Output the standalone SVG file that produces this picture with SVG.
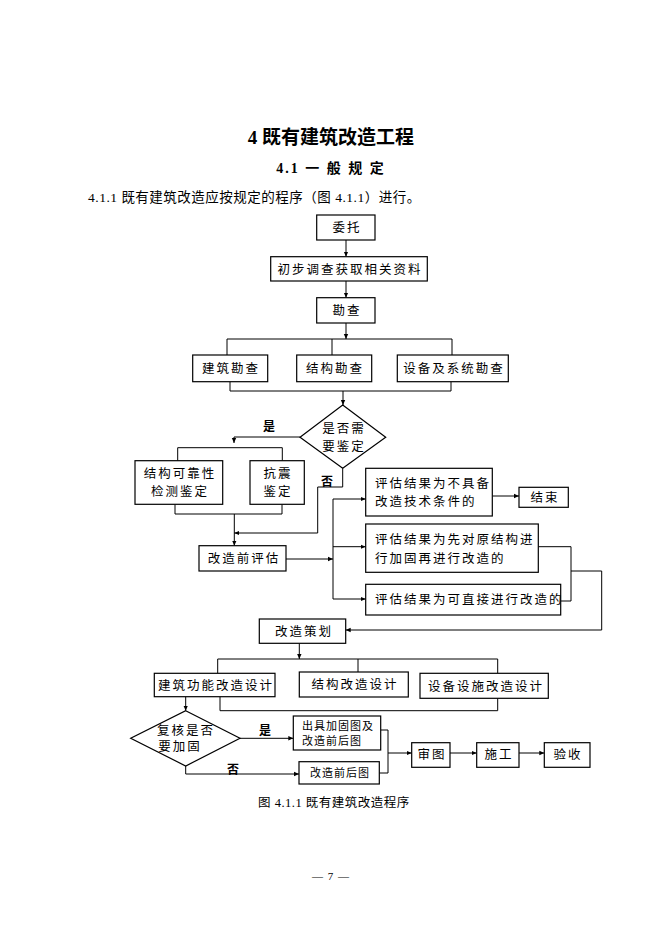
<svg xmlns="http://www.w3.org/2000/svg" width="662" height="936" viewBox="0 0 662 936">
<defs>
<marker id="a" markerWidth="6" markerHeight="6" refX="5" refY="3" orient="auto" markerUnits="userSpaceOnUse"><path d="M0,0.8 L5,3 L0,5.2 Z" fill="#000"/></marker>
<style>
.b{fill:#fff;stroke:#000;stroke-width:1.2}
.t{font-family:"Liberation Serif","Noto Sans CJK SC",serif;font-size:12.5px;fill:#000;letter-spacing:2px}
.c{text-anchor:middle}
.l{fill:none;stroke:#000;stroke-width:1}
.h{font-family:"Liberation Serif","Noto Sans CJK SC",serif;font-weight:bold;fill:#000}
</style>
</defs>
<rect width="662" height="936" fill="#fff"/>
<text class="h c" x="331" y="144" font-size="19">4 既有建筑改造工程</text>
<text class="h c" x="331" y="173" font-size="14" letter-spacing="2">4.1 一 般 规 定</text>
<text class="t" x="88" y="202" font-size="13.5" letter-spacing="0.5" style="font-size:13.5px;letter-spacing:0.5px">4.1.1 既有建筑改造应按规定的程序（图 4.1.1）进行。</text>
<g id="connectors" class="l">
<path d="M346,240 V256.7" marker-end="url(#a)"/>
<path d="M346,281 V297.7" marker-end="url(#a)"/>
<path d="M346,323 V339" marker-end="url(#a)"/>
<path d="M227,355 V339 H452 V355 M332,339 V355"/>
<path d="M230,381.7 V391 H451 V381.7"/>
<path d="M343,391 V405" marker-end="url(#a)"/>
<path d="M300,437 H234 V443" marker-end="url(#a)"/>
<path d="M177.7,460.7 V447.7 H282.3 V460.7"/>
<path d="M175,504.3 V514 H282 V504.3"/>
<path d="M234.3,514 V545.7" marker-end="url(#a)"/>
<path d="M342.7,468.3 V487 H317.7 V533 H234.3" marker-end="url(#a)"/>
<path d="M286,559 H333" marker-end="url(#a)"/>
<path d="M333,499 V599"/>
<path d="M333,499 H365.7" marker-end="url(#a)"/>
<path d="M333,546.7 H365.7" marker-end="url(#a)"/>
<path d="M333,599 H365.7" marker-end="url(#a)"/>
<path d="M492.3,496 H519" marker-end="url(#a)"/>
<path d="M538.3,546.7 H571 V601 H560.7 M571,571 H601.7 V630 H345.7" marker-end="url(#a)"/>
<path d="M299.3,643.3 V659" marker-end="url(#a)"/>
<path d="M217.7,673.3 V659 H497.7 V673.3 M358,659 V672"/>
<path d="M220,696.7 V710.7 H497.7 V698.3"/>
<path d="M185.7,696.7 V710.7" marker-end="url(#a)"/>
<path d="M240,738.3 H293.3" marker-end="url(#a)"/>
<path d="M185.7,766 V774 H299" marker-end="url(#a)"/>
<path d="M380.7,730 H388 V773 H379.3"/>
<path d="M388,753 H411.7" marker-end="url(#a)"/>
<path d="M450,753 H476.7" marker-end="url(#a)"/>
<path d="M519,753 H544.3" marker-end="url(#a)"/>
</g>
<g id="n1"><rect class="b" x="316.7" y="215" width="58.3" height="25"/><text class="t c" x="347" y="232">委托</text></g>
<g id="n2"><rect class="b" x="270.7" y="256.7" width="156.6" height="24.3"/><text class="t c" x="350" y="273.5">初步调查获取相关资料</text></g>
<g id="n3"><rect class="b" x="316.7" y="297.7" width="58.3" height="25.3"/><text class="t c" x="347" y="315">勘查</text></g>
<g id="n4"><rect class="b" x="192.7" y="355" width="75" height="26.7"/><text class="t c" x="231" y="373">建筑勘查</text></g>
<g id="n5"><rect class="b" x="296.7" y="355" width="75" height="26.7"/><text class="t c" x="335" y="373">结构勘查</text></g>
<g id="n6"><rect class="b" x="397.3" y="355" width="111" height="26.7"/><text class="t c" x="454" y="373">设备及系统勘查</text></g>
<g id="d1"><polygon class="b" points="342.7,405 385.7,437.3 342.7,468.3 300,437.3"/><text class="t c" x="344" y="433">是否需</text><text class="t c" x="344" y="451">要鉴定</text></g>
<text class="h" x="263" y="431" font-size="12">是</text>
<text class="h" x="321" y="486" font-size="12">否</text>
<g id="n7"><rect class="b" x="135" y="460.7" width="87.7" height="43.6"/><text class="t c" x="180" y="478">结构可靠性</text><text class="t c" x="180" y="496">检测鉴定</text></g>
<g id="n8"><rect class="b" x="250" y="460.7" width="54.3" height="43.6"/><text class="t c" x="278" y="478">抗震</text><text class="t c" x="278" y="496">鉴定</text></g>
<g id="n9"><rect class="b" x="199" y="545.7" width="87" height="25.3"/><text class="t c" x="244" y="563">改造前评估</text></g>
<g id="n10"><rect class="b" x="365.7" y="468.3" width="126.6" height="47.7"/><text class="t" x="375" y="488">评估结果为不具备</text><text class="t" x="375" y="506">改造技术条件的</text></g>
<g id="n11"><rect class="b" x="519" y="487.3" width="49.3" height="20"/><text class="t c" x="545" y="502">结束</text></g>
<g id="n12"><rect class="b" x="365.7" y="524" width="172.6" height="48.3"/><text class="t" x="375" y="544">评估结果为先对原结构进</text><text class="t" x="375" y="563">行加固再进行改造的</text></g>
<g id="n13"><rect class="b" x="365.7" y="584.3" width="195" height="30.7"/><text class="t" x="375" y="604">评估结果为可直接进行改造的</text></g>
<g id="n14"><rect class="b" x="259.3" y="619" width="86.4" height="24.3"/><text class="t c" x="304" y="636">改造策划</text></g>
<g id="n15"><rect class="b" x="154.3" y="673.3" width="120.7" height="23.4"/><text class="t c" x="216" y="690">建筑功能改造设计</text></g>
<g id="n16"><rect class="b" x="299.3" y="672" width="109" height="25"/><text class="t c" x="355" y="689">结构改造设计</text></g>
<g id="n17"><rect class="b" x="420" y="673.3" width="128.3" height="25"/><text class="t c" x="486" y="691">设备设施改造设计</text></g>
<g id="d2"><polygon class="b" points="185.7,710.7 240,738.3 185.7,766 130.7,738.3"/><text class="t c" x="186" y="735">复核是否</text><text class="t c" x="180" y="751">要加固</text></g>
<text class="h" x="259" y="735" font-size="12">是</text>
<text class="h" x="227" y="774" font-size="12">否</text>
<g id="n18"><rect class="b" x="293.3" y="716" width="87.4" height="34"/><text class="t" x="302" y="730" style="font-size:11px;letter-spacing:1px">出具加固图及</text><text class="t" x="302" y="745" style="font-size:11px;letter-spacing:1px">改造前后图</text></g>
<g id="n19"><rect class="b" x="299" y="761.7" width="80.3" height="22.3"/><text class="t c" x="340" y="777" style="font-size:11px;letter-spacing:1px">改造前后图</text></g>
<g id="n20"><rect class="b" x="411.7" y="742.7" width="38.3" height="24.6"/><text class="t c" x="432" y="759">审图</text></g>
<g id="n21"><rect class="b" x="476.7" y="742.7" width="42.3" height="24.6"/><text class="t c" x="499" y="759">施工</text></g>
<g id="n22"><rect class="b" x="544.3" y="742.7" width="45.7" height="24.6"/><text class="t c" x="568" y="759">验收</text></g>
<text class="t c" x="334" y="807" style="letter-spacing:0.5px">图 4.1.1 既有建筑改造程序</text>
<text class="t c" x="331" y="880" style="font-size:11px;letter-spacing:1px">— 7 —</text>
</svg>
